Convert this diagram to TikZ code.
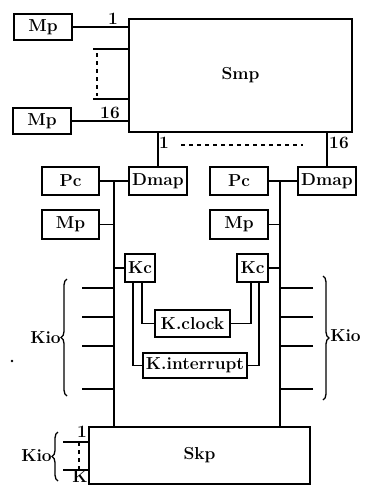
\documentclass[tikz,border=0pt]{standalone}
\usepackage{tikz}
\usetikzlibrary{positioning,calc,decorations.pathreplacing}

\begin{document}
\begin{tikzpicture}[
  x=0.75pt, y=-0.75pt,
  font=\fontsize{13}{15}\selectfont\bfseries,
  box/.style={draw, line width=1.4pt, inner sep=1pt, minimum width=43pt, minimum height=21pt},
  ln/.style={line width=1.3pt},
  lbl/.style={inner sep=0pt},
  brc/.style={decorate, decoration={brace, amplitude=4.5pt}, line width=1pt}]
\useasboundingbox (0,0) rectangle (365,486);
% memory and switch at the top
\node[box, minimum height=19pt] (mpA) at (43,27) {Mp};
\node[box, minimum height=19pt] (mpB) at (42,121) {Mp};
\node[box, minimum width=167pt, minimum height=85pt] (smp) at (240.5,75.5) {Smp};
\draw[ln] (mpA) -- (mpA -| smp.west);
\draw[ln] (mpB) -- (mpB -| smp.west);
\node[lbl] (nA) at (113,19) {1};
\node[lbl] (nB) at (110,113) {16};
\coordinate (brT) at (93,49);
\coordinate (brB) at (93,99);
\draw[ln] (brT) -- (brT -| smp.west);
\draw[ln] (brB) -- (brB -| smp.west);
\draw[ln, dashed] ($(brT)+(4,4)$) -- ($(brB)+(4,-3)$);
% two processors
\node[box] (pcL) at (70.5,181) {Pc};
\node[box] (dmapL) at (158,181) {Dmap};
\node[box, minimum height=22pt] (mpL) at (70.5,224.5) {Mp};
\node[box, minimum width=22.5pt] (kcL) at (140,268) {Kc};
\node[box] (pcR) at (239,181) {Pc};
\node[box] (dmapR) at (327,181) {Dmap};
\node[box, minimum height=22pt] (mpR) at (239,224.5) {Mp};
\node[box, minimum width=23pt] (kcR) at (252.5,268) {Kc};
\node[box, minimum width=56pt, minimum height=20pt] (clock) at (192.5,323.5) {K.clock};
\node[box, minimum width=78pt, minimum height=19pt] (intr) at (195,365.5) {K.interrupt};
\node[box, minimum width=166pt, minimum height=43pt] (skp) at (199.5,455.5) {Skp};
\draw[ln] (dmapL.north) -- (dmapL.north |- smp.south);
\draw[ln] (dmapR.north) -- (dmapR.north |- smp.south);
\node[lbl] (n1) at (164,143) {1};
\node[lbl] (n16) at (339,143) {16};
\coordinate (dsL) at (181,145);
\coordinate (dsR) at (303,145);
\draw[ln, dashed] (dsL) -- (dsR);
\coordinate (busL) at (114,181);
\coordinate (busR) at (280,181);
\draw[ln] (busL) -- (busL |- skp.north);
\draw[ln] (busR) -- (busR |- skp.north);
\draw[ln] (pcL) -- (dmapL);
\draw[ln] (pcR) -- (dmapR);
\draw[ln] (mpL) -- (mpL -| busL);
\draw[ln] (mpR) -- (mpR -| busR);
\draw[ln] (kcL) -- (kcL -| busL);
\draw[ln] (kcR) -- (kcR -| busR);
\draw[ln] ($(kcL.south)+(2,0)$) |- (clock.west);
\draw[ln] ($(kcL.south)+(-7,0)$) |- (intr.west);
\draw[ln] ($(kcR.south)+(-1.5,0)$) |- (clock.east);
\draw[ln] ($(kcR.south)+(6.5,0)$) |- (intr.east);
% io lines
\foreach \i/\y in {1/288,2/317,3/346,4/389} {
  \coordinate (kioL\i) at (82,\y);
  \coordinate (kioR\i) at (313,\y);
  \draw[ln] (kioL\i) -- (kioL\i -| busL);
  \draw[ln] (kioR\i) -- (kioR\i -| busR);
}
\draw[brc] (67,396) -- (67,279);
\draw[brc] (323,276) -- (323,400);
\node[lbl, anchor=east] (kioL) at (61,338) {Kio};
\node[lbl, anchor=west] (kioR) at (330,336) {Kio};
\fill (12,361) circle (1pt);
% io on Skp
\coordinate (ioT) at (63,442);
\coordinate (ioB) at (63,470);
\draw[ln] (ioT) -- (ioT -| skp.west);
\draw[ln] (ioB) -- (ioB -| skp.west);
\draw[ln, dashed] ($(ioT)+(16,0)$) -- ($(ioB)+(16,0)$);
\node[lbl] (k1) at (82,432) {1};
\node[lbl] (kK) at (80,477) {K};
\draw[brc] (58,481) -- (58,432);
\node[lbl, anchor=east] (kioS) at (52,456) {Kio};
\end{tikzpicture}
\end{document}
